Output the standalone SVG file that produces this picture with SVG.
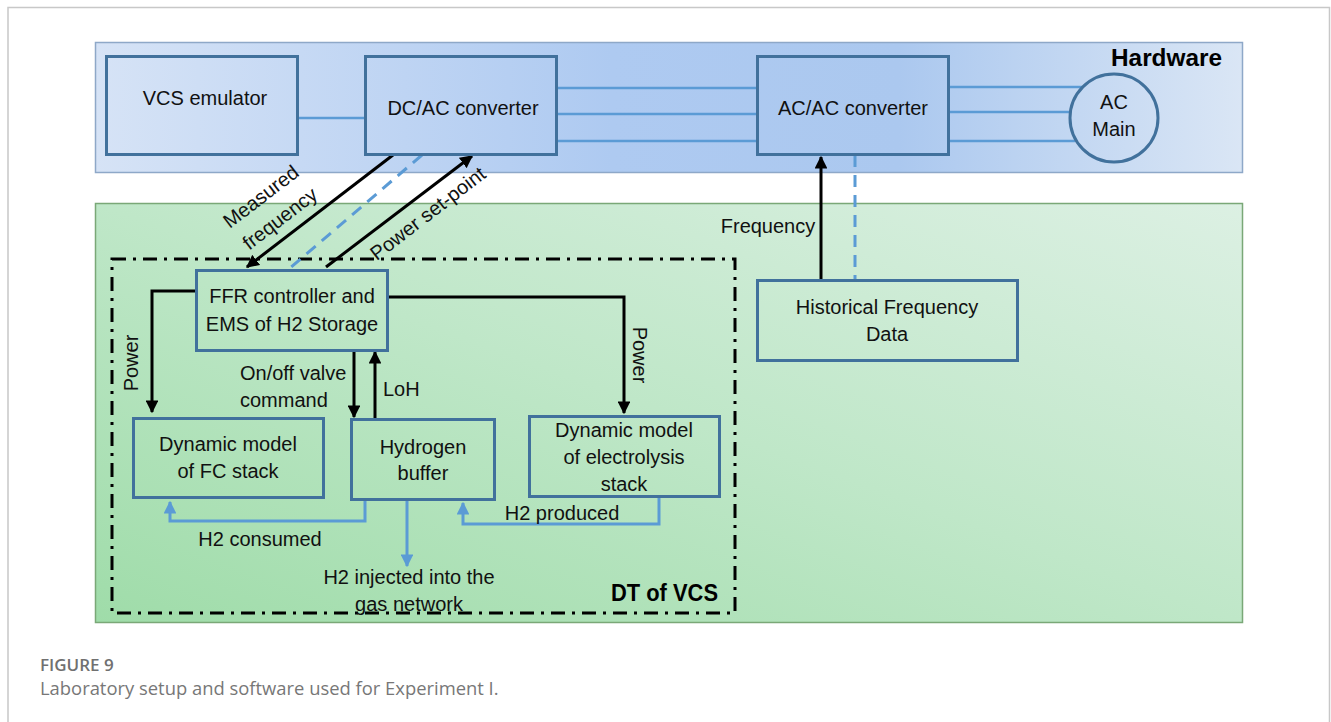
<svg xmlns="http://www.w3.org/2000/svg" width="1331" height="722" viewBox="0 0 1331 722">
  <defs>
    <linearGradient id="hwFill" x1="0" y1="0" x2="1" y2="0">
      <stop offset="0" stop-color="#d6e3f6"/>
      <stop offset="0.45" stop-color="#aecaf1"/>
      <stop offset="0.7" stop-color="#abc8ef"/>
      <stop offset="1" stop-color="#dae6f5"/>
    </linearGradient>
    <linearGradient id="swFill" x1="0" y1="1" x2="1" y2="0">
      <stop offset="0" stop-color="#9fdca9"/>
      <stop offset="0.5" stop-color="#bfe7c8"/>
      <stop offset="1" stop-color="#dcf0e3"/>
    </linearGradient>
    <marker id="arrBlack" viewBox="0 0 10 10" refX="9" refY="5" markerWidth="4.3" markerHeight="4.3" orient="auto-start-reverse" markerUnits="strokeWidth">
      <path d="M0,0 L10,5 L0,10 z" fill="#000"/>
    </marker>
    <marker id="arrBlue" viewBox="0 0 10 10" refX="9" refY="5" markerWidth="4.3" markerHeight="4.3" orient="auto-start-reverse" markerUnits="strokeWidth">
      <path d="M0,0 L10,5 L0,10 z" fill="#5b9bd5"/>
    </marker>
    <style>
      .node { fill: none; stroke: #41719c; stroke-width: 3; }
      .lbl { font-family: "Liberation Sans", Arial, sans-serif; font-size: 20px; fill: #111; text-anchor: middle; }
      .lblL { font-family: "Liberation Sans", Arial, sans-serif; font-size: 20px; fill: #111; }
      .title { font-family: "Liberation Sans", Arial, sans-serif; font-size: 23px; font-weight: bold; fill: #000; }
      .wire { stroke: #5b9bd5; stroke-width: 2.5; fill: none; }
      .flow { stroke: #5b9bd5; stroke-width: 3; fill: none; }
      .sig { stroke: #000; stroke-width: 3; fill: none; }
      .dash { stroke: #5b9bd5; stroke-width: 3; fill: none; stroke-dasharray: 12 8; }
      .cap1 { font-family: "Open Sans", "Liberation Sans", sans-serif; font-size: 17px; font-weight: 600; fill: #707070; }
      .cap2 { font-family: "Open Sans", "Liberation Sans", sans-serif; font-size: 18.4px; fill: #777777; }
    </style>
  </defs>

  <rect x="0" y="0" width="1331" height="722" fill="#fff"/>
  <!-- page frame -->
  <path d="M8,722 L8,7.5 L1329.5,7.5 L1329.5,722" fill="none" stroke="#c8c8c8" stroke-width="1.5"/>

  <!-- regions -->
  <g id="hardware">
    <rect x="95.5" y="42.5" width="1147" height="130" fill="url(#hwFill)" stroke="#8ea8c8" stroke-width="1.5"/>
    <text class="title" x="1111" y="66" textLength="111" lengthAdjust="spacingAndGlyphs">Hardware</text>
  </g>
  <g id="software">
    <rect x="95.5" y="203.5" width="1147" height="419" fill="url(#swFill)" stroke="#7aa877" stroke-width="1.5"/>
  </g>
  <g id="dt-of-vcs">
    <rect x="112" y="259" width="623" height="354" fill="none" stroke="#000" stroke-width="3" stroke-dasharray="14 7 3 7"/>
    <text class="title" x="611" y="601" textLength="107" lengthAdjust="spacingAndGlyphs">DT of VCS</text>
  </g>

  <!-- connectors -->
  <g id="connectors">
    <!-- power wiring -->
    <line class="wire" x1="297" y1="118" x2="365" y2="118"/>
    <line class="wire" x1="556" y1="88" x2="757" y2="88"/>
    <line class="wire" x1="556" y1="114" x2="757" y2="114"/>
    <line class="wire" x1="556" y1="141" x2="757" y2="141"/>
    <line class="wire" x1="948" y1="87" x2="1082" y2="87"/>
    <line class="wire" x1="948" y1="112" x2="1070" y2="112"/>
    <line class="wire" x1="948" y1="141" x2="1075" y2="141"/>

    <!-- DC/AC link -->
    <line class="sig" x1="393" y1="155" x2="247" y2="267" marker-end="url(#arrBlack)"/>
    <line class="dash" x1="422" y1="155" x2="290" y2="268"/>
    <line class="sig" x1="326" y1="267" x2="472" y2="156" marker-end="url(#arrBlack)"/>
    <text class="lbl" transform="translate(265,202) rotate(-37.5)">Measured</text>
    <text class="lbl" transform="translate(284,224) rotate(-37.5)">frequency</text>
    <text class="lbl" transform="translate(432,219) rotate(-37.5)">Power set-point</text>

    <!-- Power to stacks -->
    <polyline class="sig" points="196,291 152,291 152,412" marker-end="url(#arrBlack)"/>
    <text class="lbl" transform="translate(138,363) rotate(-90)">Power</text>
    <polyline class="sig" points="388,297 624,297 624,413" marker-end="url(#arrBlack)"/>
    <text class="lbl" transform="translate(633,355) rotate(90)">Power</text>

    <!-- valve command / LoH -->
    <line class="sig" x1="354" y1="351" x2="354" y2="417" marker-end="url(#arrBlack)"/>
    <line class="sig" x1="375" y1="418" x2="375" y2="352" marker-end="url(#arrBlack)"/>
    <text class="lblL" x="240" y="380">On/off valve</text>
    <text class="lblL" x="240" y="407">command</text>
    <text class="lblL" x="383" y="396">LoH</text>

    <!-- hydrogen flows -->
    <polyline class="flow" points="365,499 365,521 170,521 170,502" marker-end="url(#arrBlue)"/>
    <text class="lbl" x="260" y="546">H2 consumed</text>
    <line class="flow" x1="407" y1="499" x2="407" y2="566" marker-end="url(#arrBlue)"/>
    <text class="lbl" x="409" y="584">H2 injected into the</text>
    <text class="lbl" x="409" y="611">gas network</text>
    <polyline class="flow" points="659,497 659,524 463,524 463,503" marker-end="url(#arrBlue)"/>
    <text class="lbl" x="562" y="520">H2 produced</text>

    <!-- historical data to AC/AC -->
    <line class="sig" x1="821" y1="279" x2="821" y2="157" marker-end="url(#arrBlack)"/>
    <line class="dash" x1="855" y1="155" x2="855" y2="279"/>
    <text class="lbl" x="768" y="233">Frequency</text>
  </g>

  <!-- nodes -->
  <g id="vcs-emulator">
    <rect class="node" x="106.5" y="56.5" width="191" height="98"/>
    <text class="lbl" x="205" y="105">VCS emulator</text>
  </g>
  <g id="dcac-converter">
    <rect class="node" x="365.5" y="56.5" width="191" height="98"/>
    <text class="lbl" x="463" y="115">DC/AC converter</text>
  </g>
  <g id="acac-converter">
    <rect class="node" x="757.5" y="56.5" width="191" height="98"/>
    <text class="lbl" x="853" y="115">AC/AC converter</text>
  </g>
  <g id="ac-main">
    <circle cx="1114" cy="118" r="44" fill="none" stroke="#41719c" stroke-width="3"/>
    <text class="lbl" x="1114" y="109">AC</text>
    <text class="lbl" x="1114" y="136">Main</text>
  </g>
  <g id="ffr-controller">
    <rect class="node" x="196.5" y="270.5" width="191" height="80"/>
    <text class="lbl" x="292" y="303">FFR controller and</text>
    <text class="lbl" x="292" y="331">EMS of H2 Storage</text>
  </g>
  <g id="fc-stack">
    <rect class="node" x="133.5" y="418.5" width="190" height="79"/>
    <text class="lbl" x="228" y="451">Dynamic model</text>
    <text class="lbl" x="228" y="478">of FC stack</text>
  </g>
  <g id="hydrogen-buffer">
    <rect class="node" x="351.5" y="419.5" width="143" height="80"/>
    <text class="lbl" x="423" y="454">Hydrogen</text>
    <text class="lbl" x="423" y="480">buffer</text>
  </g>
  <g id="electrolysis-stack">
    <rect class="node" x="529.5" y="416.5" width="190" height="80"/>
    <text class="lbl" x="624" y="437">Dynamic model</text>
    <text class="lbl" x="624" y="464">of electrolysis</text>
    <text class="lbl" x="624" y="491">stack</text>
  </g>
  <g id="historical-data">
    <rect class="node" x="757.5" y="280.5" width="260" height="80"/>
    <text class="lbl" x="887" y="314">Historical Frequency</text>
    <text class="lbl" x="887" y="341">Data</text>
  </g>

  <!-- caption -->
  <text class="cap1" x="40" y="671">FIGURE 9</text>
  <text class="cap2" x="40" y="695">Laboratory setup and software used for Experiment I.</text>
</svg>
